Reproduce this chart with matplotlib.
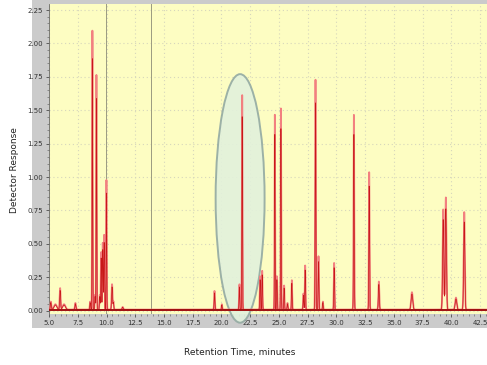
import numpy as np
import matplotlib.pyplot as plt
from matplotlib.patches import Ellipse
from matplotlib.ticker import MultipleLocator

# peaks: retention time (min), height, width (sigma, min)
peak_times = [5.15, 5.55, 5.96, 6.3, 7.29, 8.57, 8.77, 9.0, 9.12, 9.41, 9.53, 9.67, 9.79,
              9.99, 10.48, 10.6, 11.4, 19.39, 20.03, 21.56, 21.80, 23.36, 23.54, 24.64,
              24.82, 25.17, 25.45, 25.74, 26.12, 27.13, 27.28, 28.18, 28.44, 28.82, 29.80,
              31.52, 32.85, 33.69, 36.57, 39.29, 39.52, 40.40, 41.12]
peak_heights = [0.06, 0.04, 0.16, 0.04, 0.05, 0.06, 2.09, 0.11, 1.76, 0.11, 0.43, 0.50, 0.56,
                0.97, 0.19, 0.06, 0.02, 0.14, 0.04, 0.19, 1.61, 0.25, 0.29, 1.46,
                0.25, 1.51, 0.18, 0.05, 0.22, 0.12, 0.33, 1.72, 0.40, 0.06, 0.35,
                1.46, 1.03, 0.21, 0.13, 0.75, 0.84, 0.09, 0.73]
peak_widths = [0.04, 0.12, 0.04, 0.12, 0.04, 0.03, 0.025, 0.03, 0.025, 0.03, 0.03, 0.03, 0.03,
               0.025, 0.04, 0.03, 0.05, 0.03, 0.03, 0.03, 0.025, 0.03, 0.03, 0.025,
               0.03, 0.025, 0.03, 0.03, 0.03, 0.03, 0.03, 0.03, 0.03, 0.03, 0.03,
               0.03, 0.03, 0.04, 0.07, 0.05, 0.05, 0.07, 0.05]
baseline_level = 0.008

# gray marker lines (min)
marker_times = [9.99, 13.85]

x_ticks = [5.0, 7.5, 10.0, 12.5, 15.0, 17.5, 20.0, 22.5, 25.0, 27.5, 30.0, 32.5, 35.0,
           37.5, 40.0, 42.5]
y_ticks = [0.0, 0.25, 0.5, 0.75, 1.0, 1.25, 1.5, 1.75, 2.0, 2.25]

t = np.linspace(4.9, 43.2, 8000)
signal = np.full_like(t, baseline_level)
for c, h, w in zip(peak_times, peak_heights, peak_widths):
    signal += h * np.exp(-0.5 * ((t - c) / w) ** 2)

fig = plt.figure(figsize=(4.87, 3.65), dpi=100)
fig.patch.set_facecolor('white')

# gray instrument panel behind the plot
bg = fig.add_axes([32 / 487, 1 - 328 / 365, 1 - 32 / 487, 328 / 365])
bg.set_facecolor('#cbcbcb')
bg.set_xticks([])
bg.set_yticks([])
for s in bg.spines.values():
    s.set_visible(False)
bg.set_zorder(0)

ax = fig.add_axes([48.5 / 487, 1 - 314 / 365, 1 - 48.5 / 487, 310 / 365])
ax.set_zorder(1)
ax.set_facecolor('#fdfdc2')
ax.set_xlim(4.95, 43.1)
ax.set_ylim(-0.025, 2.295)

ax.xaxis.set_minor_locator(MultipleLocator(0.5))
ax.yaxis.set_minor_locator(MultipleLocator(0.05))
ax.set_xticks(x_ticks)
ax.set_yticks(y_ticks)
ax.set_xticklabels([f'{v:.1f}' for v in x_ticks])
ax.set_yticklabels([f'{v:.2f}' for v in y_ticks])
ax.tick_params(labelsize=5, colors='#333333', length=2.5, width=0.5, pad=1.5)
ax.tick_params(which='minor', length=1.2, width=0.4, colors='#555555')
ax.grid(True, color='#d6d6bc', linestyle=(0, (1, 2.5)), linewidth=0.8)
ax.set_axisbelow(True)
for s in ax.spines.values():
    s.set_visible(False)
ax.spines['left'].set_visible(True)
ax.spines['left'].set_color('#666666')
ax.spines['left'].set_linewidth(0.6)

for m in marker_times:
    ax.axvline(m, color='#9a9a80', lw=0.7, zorder=2)

ell = Ellipse((21.62, 0.84), 4.26, 1.86, facecolor='#e2f1dc', edgecolor='#93aaa2',
              lw=1.4, alpha=0.9, zorder=1, clip_on=False)
ax.add_patch(ell)

ax.plot(t, signal, color='#f28080', lw=1.3, zorder=3)
ax.plot(t, signal * 0.9, color='#c81818', lw=0.5, zorder=4)
ax.axhline(baseline_level, color='#a01010', lw=1.4, zorder=4)

fig.text(15 / 487, 1 - 170 / 365, 'Detector Response', rotation=90, ha='center',
         va='center', fontsize=6.5, color='#222222', fontfamily='DejaVu Sans')
fig.text(240 / 487, 1 - 352 / 365, 'Retention Time, minutes', ha='center', va='center',
         fontsize=6.5, color='#222222', fontfamily='DejaVu Sans')

fig.savefig('out.png', dpi=100, facecolor='white')
